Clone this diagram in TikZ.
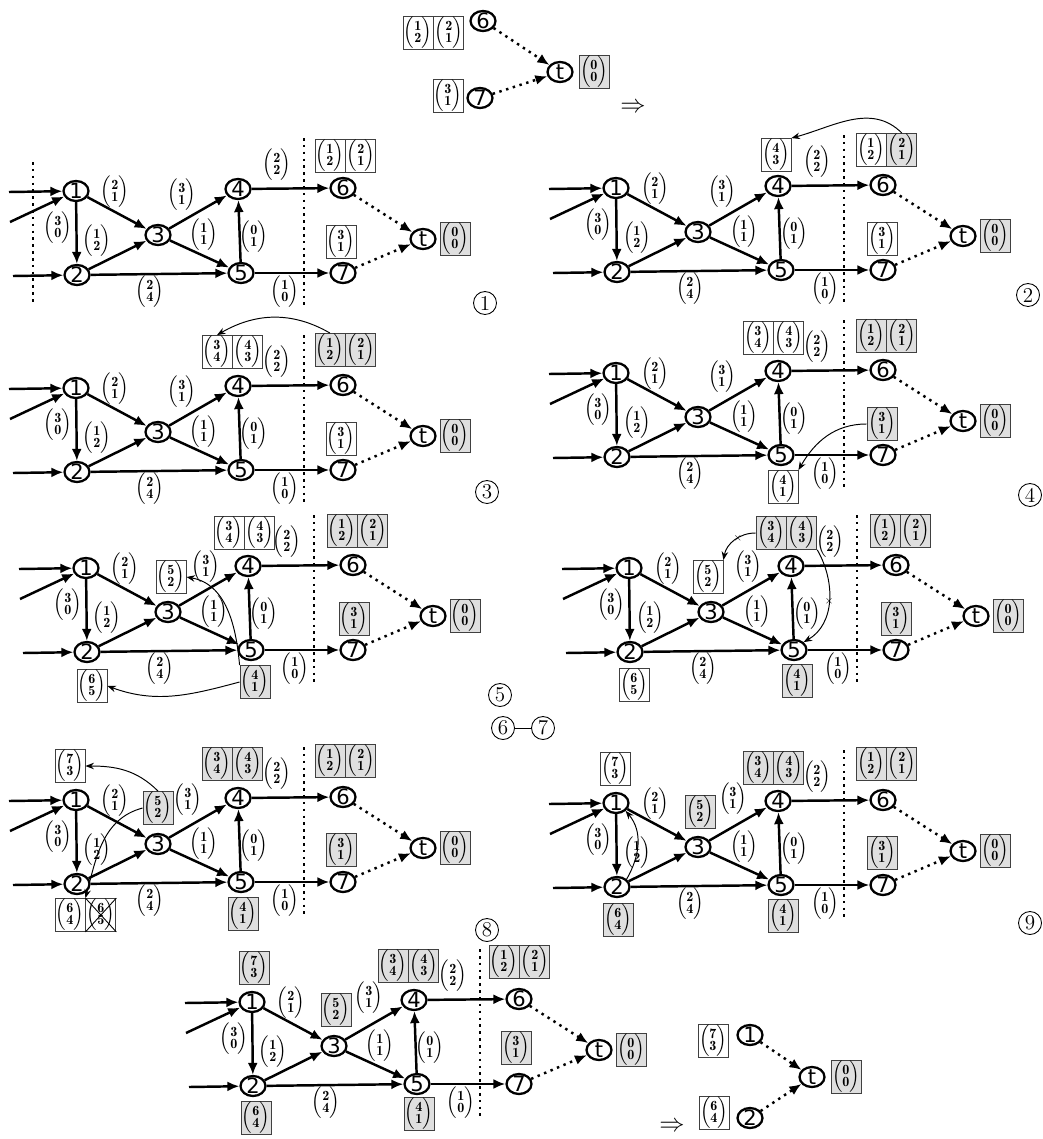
\documentclass[tikz,border=0pt]{standalone}
\usepackage{fontspec}
\newfontfamily\vfont{DejaVu Sans}
\usetikzlibrary{positioning,arrows.meta,shapes.geometric}
\newcommand{\vc}[2]{$\left(\begin{array}{@{}c@{}}\mathbf{#1}\\[-2.5pt]\mathbf{#2}\end{array}\right)$}
\tikzset{
  vert/.style={ellipse,draw,line width=1.3pt,minimum width=0.5cm,minimum height=0.4cm,inner xsep=0pt,inner ysep=-2pt,font=\vfont\fontsize{12}{12}\selectfont},
  e/.style={line width=1.4pt,-{Latex[length=2.4mm,width=2mm]}},
  dotarr/.style={line width=1.4pt,dash pattern=on 1.4pt off 2.6pt,-{Latex[length=2.4mm,width=2mm]}},
  sepline/.style={line width=1.5pt,dash pattern=on 1.5pt off 2.4pt},
  lab/.style={inner sep=0pt,font=\footnotesize},
  vbox/.style={draw=black!75,line width=0.5pt,fill=white,minimum width=0.6cm,minimum height=0.66cm,inner sep=0pt,font=\footnotesize},
  vboxg/.style={vbox,fill=gray!25},
  upd/.style={line width=0.55pt,-{Stealth[length=1.7mm,width=1.3mm]}},
  strike/.style={line width=0.5pt},
  cross/.style={inner sep=0pt,font=\tiny},
  stepno/.style={circle,draw,line width=0.5pt,minimum size=0.46cm,inner sep=0pt,font=\fontsize{12}{12}\selectfont},
}
% the network, node 1 at the origin; #1 = place of label (3,1), #2 = prefix of the names
\newcommand{\flowgraph}[2][106,4]{%
  \node[vert] (#2n1) at (0,0) {1};
  \node[vert] (#2n2) at (1,84) {2};
  \node[vert] (#2n3) at (82,44) {3};
  \node[vert] (#2n4) at (162,-2) {4};
  \node[vert] (#2n5) at (165,82) {5};
  \node[vert] (#2n6) at (267,-3) {6};
  \node[vert] (#2n7) at (267,82) {7};
  \node[vert] (#2t) at (347,48) {t};
  \node[vboxg] (#2tb) at (379,48) {\vc{0}{0}};
  \coordinate (#2s1) at (-67,1);
  \coordinate (#2s2) at (-66,31);
  \coordinate (#2s3) at (-63,85);
  \draw[e] (#2s1)--(#2n1);
  \draw[e] (#2s2)--(#2n1);
  \draw[e] (#2s3)--(#2n2);
  \draw[e] (#2n1)--(#2n2);
  \draw[e] (#2n1)--(#2n3);
  \draw[e] (#2n2)--(#2n3);
  \draw[e] (#2n2)--(#2n5);
  \draw[e] (#2n3)--(#2n4);
  \draw[e] (#2n3)--(#2n5);
  \draw[e] (#2n5)--(#2n4);
  \draw[e] (#2n4)--(#2n6);
  \draw[e] (#2n5)--(#2n7);
  \draw[dotarr] (#2n6)--(#2t);
  \draw[dotarr] (#2n7)--(#2t);
  \node[lab] (#2l12) at (-18,37) {\vc{3}{0}};
  \node[lab] (#2l13) at (39,1) {\vc{2}{1}};
  \node[lab] (#2l23) at (21,50) {\vc{1}{2}};
  \node[lab] (#2l25) at (74,101) {\vc{2}{4}};
  \node[lab] (#2l34) at (#1) {\vc{3}{1}};
  \node[lab] (#2l35) at (128,44) {\vc{1}{1}};
  \node[lab] (#2l54) at (178,46) {\vc{0}{1}};
  \node[lab] (#2l46) at (201,-26) {\vc{2}{2}};
  \node[lab] (#2l57) at (209,101) {\vc{1}{0}};
  \coordinate (#2c1) at (228,-53);
  \coordinate (#2c2) at (228,114);
  \draw[sepline] (#2c1)--(#2c2);
}

\begin{document}
\begin{tikzpicture}[x=0.02cm,y=-0.02cm]
\useasboundingbox (0,0) rectangle (1042,1139);
%% ---- top: sinks 6, 7 ----
\node[vert] (u6) at (483,21) {6};
\node[vert] (u7) at (480,98) {7};
\node[vert] (ut) at (560,72) {t};
\node[vboxg] (utb) at (594,72) {\vc{0}{0}};
\node[vbox] (ub6l) at (418,33) {\vc{1}{2}};
\node[vbox,right=0pt of ub6l] (ub6r) {\vc{2}{1}};
\node[vbox] (ub7) at (448,96) {\vc{3}{1}};
\draw[dotarr] (u6)--(ut);
\draw[dotarr] (u7)--(ut);
\node (uimp) at (633,108) {\Large$\Rightarrow$};
%% ---- panel 1 ----
\begin{scope}[shift={(76,191)}]
  \flowgraph{p1}
  \coordinate (p1c3) at (-43,-29);
  \coordinate (p1c4) at (-43,114);
  \draw[sepline] (p1c3)--(p1c4);
  \node[vbox] (p1b6l) at (254,-35) {\vc{1}{2}};
  \node[vbox,right=0pt of p1b6l] (p1b6r) {\vc{2}{1}};
  \node[vbox] (p1b7) at (265,51) {\vc{3}{1}};
\end{scope}
%% ---- panel 2 ----
\begin{scope}[shift={(616,188)}]
  \flowgraph{p2}
  \node[vbox] (p2b6l) at (255,-38) {\vc{1}{2}};
  \node[vboxg,right=0pt of p2b6l] (p2b6r) {\vc{2}{1}};
  \node[vbox] (p2b7) at (266,51) {\vc{3}{1}};
  \node[vbox] (p2b4) at (160,-33) {\vc{4}{3}};
  \draw[upd] (p2b6r.north) to[out=135,in=15] (p2b4.north east);
\end{scope}
%% ---- panel 3 ----
\begin{scope}[shift={(76,388)}]
  \flowgraph{p3}
  \node[vboxg] (p3b6l) at (254,-38) {\vc{1}{2}};
  \node[vboxg,right=0pt of p3b6l] (p3b6r) {\vc{2}{1}};
  \node[vbox] (p3b7) at (265,51) {\vc{3}{1}};
  \node[vbox] (p3b4l) at (141,-36) {\vc{3}{4}};
  \node[vbox,right=0pt of p3b4l] (p3b4r) {\vc{4}{3}};
  \draw[upd] (p3b6l.north) to[out=150,in=30] (p3b4l.north);
\end{scope}
%% ---- panel 4 ----
\begin{scope}[shift={(616,373)}]
  \flowgraph{p4}
  \node[vboxg] (p4b6l) at (255,-37) {\vc{1}{2}};
  \node[vboxg,right=0pt of p4b6l] (p4b6r) {\vc{2}{1}};
  \node[vboxg] (p4b7) at (266,51) {\vc{3}{1}};
  \node[vbox] (p4b4l) at (142,-35) {\vc{3}{4}};
  \node[vbox,right=0pt of p4b4l] (p4b4r) {\vc{4}{3}};
  \node[vbox] (p4b5) at (167,114) {\vc{4}{1}};
  \draw[upd] (p4b7.west) to[out=180,in=60] (p4b5.north east);
\end{scope}
%% ---- panel 5 ----
\begin{scope}[shift={(86,568)}]
  \flowgraph[120,-1]{p5}
  \node[vboxg] (p5b6l) at (256,-37) {\vc{1}{2}};
  \node[vboxg,right=0pt of p5b6l] (p5b6r) {\vc{2}{1}};
  \node[vboxg] (p5b7) at (268,51) {\vc{3}{1}};
  \node[vbox] (p5b4l) at (143,-35) {\vc{3}{4}};
  \node[vbox,right=0pt of p5b4l] (p5b4r) {\vc{4}{3}};
  \node[vboxg] (p5b5) at (169,114) {\vc{4}{1}};
  \node[vbox] (p5b3) at (85,9) {\vc{5}{2}};
  \node[vbox] (p5b2) at (6,118) {\vc{6}{5}};
  \draw[upd] (p5b5.north west) to[out=95,in=-10] (p5b3.east);
  \draw[upd] (p5b5.west) to[out=195,in=-20] (p5b2.east);
\end{scope}
%% ---- panel 6 ----
\begin{scope}[shift={(629,568)}]
  \flowgraph[119,-1]{p6}
  \node[vboxg] (p6b6l) at (256,-37) {\vc{1}{2}};
  \node[vboxg,right=0pt of p6b6l] (p6b6r) {\vc{2}{1}};
  \node[vboxg] (p6b7) at (267,51) {\vc{3}{1}};
  \node[vboxg] (p6b4l) at (142,-35) {\vc{3}{4}};
  \node[vboxg,right=0pt of p6b4l] (p6b4r) {\vc{4}{3}};
  \node[vboxg] (p6b5) at (168,113) {\vc{4}{1}};
  \node[vbox] (p6b3) at (79,9) {\vc{5}{2}};
  \node[vbox] (p6b2) at (5,117) {\vc{6}{5}};
  \draw[upd] (p6b4l.west) to[out=180,in=80] node[cross,pos=0.4] (p6x1) {$\times$} (p6b3.north east);
  \draw[upd] (p6b4r.south east) to[out=-60,in=30] node[cross,pos=0.5] (p6x2) {$\times$} (p6n5.north east);
\end{scope}
%% ---- panel 8 ----
\begin{scope}[shift={(76,800)}]
  \flowgraph[112,0]{p8}
  \node[vboxg] (p8b6l) at (254,-39) {\vc{1}{2}};
  \node[vboxg,right=0pt of p8b6l] (p8b6r) {\vc{2}{1}};
  \node[vboxg] (p8b7) at (265,50) {\vc{3}{1}};
  \node[vboxg] (p8b4l) at (141,-36) {\vc{3}{4}};
  \node[vboxg,right=0pt of p8b4l] (p8b4r) {\vc{4}{3}};
  \node[vboxg] (p8b5) at (167,114) {\vc{4}{1}};
  \node[vboxg] (p8b3) at (82,8) {\vc{5}{2}};
  \node[vbox] (p8b1) at (-6,-34) {\vc{7}{3}};
  \node[vbox] (p8b2l) at (-6,115) {\vc{6}{4}};
  \node[vbox,right=0pt of p8b2l] (p8b2r) {\vc{6}{5}};
  \draw[strike] (p8b2r.north west)--(p8b2r.south east);
  \draw[strike] (p8b2r.south west)--(p8b2r.north east);
  \draw[upd] (p8b3.north) to[out=135,in=0] (p8b1.east);
  \draw[upd] (p8b3.west) to[out=195,in=75] (p8b2r.north west);
\end{scope}
%% ---- panel 9 ----
\begin{scope}[shift={(616,803)}]
  \flowgraph[117,-4]{p9}
  \node[vboxg] (p9b6l) at (255,-39) {\vc{1}{2}};
  \node[vboxg,right=0pt of p9b6l] (p9b6r) {\vc{2}{1}};
  \node[vboxg] (p9b7) at (266,50) {\vc{3}{1}};
  \node[vboxg] (p9b4l) at (142,-35) {\vc{3}{4}};
  \node[vboxg,right=0pt of p9b4l] (p9b4r) {\vc{4}{3}};
  \node[vboxg] (p9b5) at (167,113) {\vc{4}{1}};
  \node[vboxg] (p9b3) at (84,9) {\vc{5}{2}};
  \node[vbox] (p9b1) at (-1,-34) {\vc{7}{3}};
  \node[vboxg] (p9b2) at (2,117) {\vc{6}{4}};
  \draw[upd] (p9n2.north east) to[out=60,in=-50] (p9n1.south east);
\end{scope}
%% ---- panel 10: final labels ----
\begin{scope}[shift={(252,1002)}]
  \flowgraph[117,-4]{p10}
  \node[vboxg] (p10b6l) at (252,-40) {\vc{1}{2}};
  \node[vboxg,right=0pt of p10b6l] (p10b6r) {\vc{2}{1}};
  \node[vboxg] (p10b7) at (264,46) {\vc{3}{1}};
  \node[vboxg] (p10b4l) at (141,-36) {\vc{3}{4}};
  \node[vboxg,right=0pt of p10b4l] (p10b4r) {\vc{4}{3}};
  \node[vboxg] (p10b5) at (167,112) {\vc{4}{1}};
  \node[vboxg] (p10b3) at (84,8) {\vc{5}{2}};
  \node[vboxg] (p10b1) at (2,-34) {\vc{7}{3}};
  \node[vboxg] (p10b2) at (4,116) {\vc{6}{4}};
\end{scope}
%% ---- bottom right: sources 1, 2 ----
\node[vert] (w1) at (750,1035) {1};
\node[vert] (w2) at (750,1118) {2};
\node[vert] (wt) at (812,1077) {t};
\node[vboxg] (wtb) at (846,1077) {\vc{0}{0}};
\node[vbox] (wb1) at (713,1041) {\vc{7}{3}};
\node[vbox] (wb2) at (714,1113) {\vc{6}{4}};
\draw[dotarr] (w1)--(wt);
\draw[dotarr] (w2)--(wt);
\node (wimp) at (672,1127) {\Large$\Rightarrow$};
%% ---- step numbers ----
\node[stepno] (st1) at (485,303) {1};
\node[stepno] (st2) at (1028,295) {2};
\node[stepno] (st3) at (487,492) {3};
\node[stepno] (st4) at (1030,495) {4};
\node[stepno] (st5) at (500,695) {5};
\node[stepno] (st6) at (503,728) {6};
\node[stepno] (st7) at (543,728) {7};
\draw[line width=0.4pt] (st6)--(st7);
\node[stepno] (st8) at (487,930) {8};
\node[stepno] (st9) at (1030,923) {9};
\end{tikzpicture}
\end{document}
